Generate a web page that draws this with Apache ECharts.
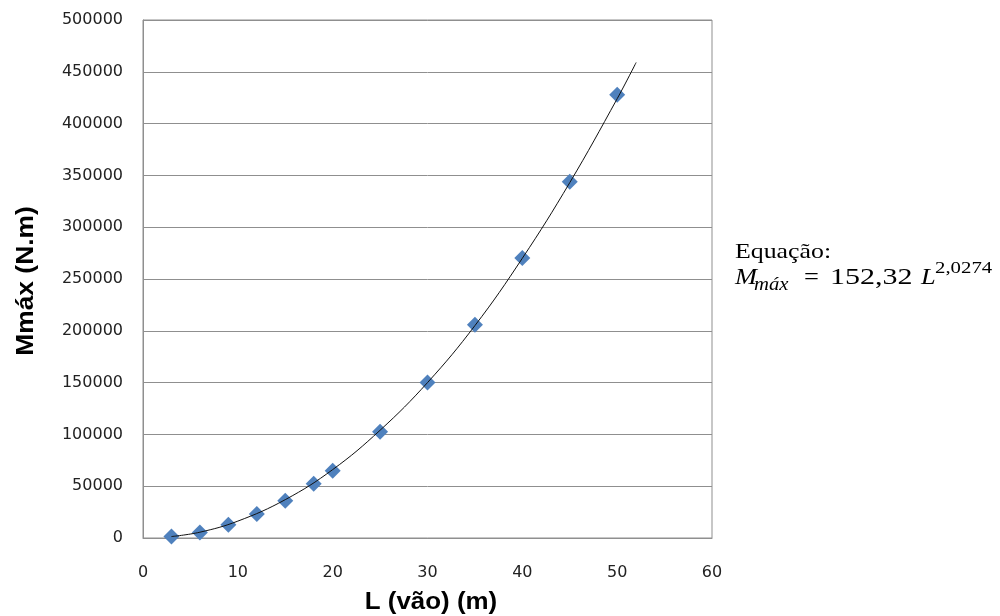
<!DOCTYPE html>
<html>
<head>
<meta charset="utf-8">
<script src="https://cdn.jsdelivr.net/npm/echarts@6/dist/echarts.min.js"></script>
<style>
html,body{margin:0;padding:0;background:#fff;}
#chart{width:1000px;height:616px;}
</style>
</head>
<body>
<div id="chart"></div>
<script>
// Measured data points: span L (m) and maximum moment (N.m)
var spanL = [3, 6, 9, 12, 15, 18, 20, 25, 30, 35, 40, 45, 50];
var momentMax = [1500, 5400, 12800, 23200, 36000, 52400, 65000, 102600, 150000, 205800, 270300, 343900, 427800];

// Trend line
var trendL = [3, 6, 10, 15, 20, 25, 30, 35, 40, 45, 50, 52];
var trendM = [1400, 5600, 16300, 37000, 66000, 104000, 150000, 205000, 270000, 343000, 424000, 459000];

// Axis ticks
var xTicks = [0, 10, 20, 30, 40, 50, 60];
var yTicks = [0, 50000, 100000, 150000, 200000, 250000, 300000, 350000, 400000, 450000, 500000];

var xTitle = 'L (vão) (m)';
var yTitle = 'Mmáx (N.m)';

var chart = echarts.init(document.getElementById('chart'), null, {renderer: 'canvas'});

var ptData = spanL.map(function (x, i) { return [x, momentMax[i]]; });
var trData = trendL.map(function (x, i) { return [x, trendM[i]]; });

var gridGray = '#8f8f8f';
var labelFont = {color: '#222', fontFamily: 'DejaVu Sans', fontSize: 16, formatter: function (v) { return String(v); }};

function txt(x, y, text, font, opts) {
  opts = opts || {};
  return {
    type: 'text', x: x, y: y,
    rotation: opts.rotation || 0,
    scaleX: opts.scaleX || 1,
    silent: true,
    style: {
      text: text, font: font, fill: '#000',
      align: opts.align || 'left', verticalAlign: 'middle',
      textAlign: opts.align || 'left', textVerticalAlign: 'middle'
    }
  };
}

var option = {
  backgroundColor: '#ffffff',
  animation: false,
  grid: {left: 143, right: 288, top: 20, bottom: 78, show: true, borderColor: gridGray, borderWidth: 1, containLabel: false},
  xAxis: {
    type: 'value', min: xTicks[0], max: xTicks[xTicks.length - 1], interval: 10,
    axisLine: {show: true, lineStyle: {color: gridGray, width: 1}},
    axisTick: {show: false},
    splitLine: {show: false},
    axisLabel: Object.assign({margin: 27}, labelFont)
  },
  yAxis: {
    type: 'value', min: yTicks[0], max: yTicks[yTicks.length - 1], interval: 50000,
    axisLine: {show: true, lineStyle: {color: gridGray, width: 1}},
    axisTick: {show: false},
    splitLine: {show: true, lineStyle: {color: gridGray, width: 1}},
    axisLabel: Object.assign({margin: 20}, labelFont)
  },
  series: [
    {
      type: 'line', data: trData, smooth: 0.4, showSymbol: false, symbol: 'none',
      lineStyle: {color: '#111', width: 1}, z: 3, silent: true
    },
    {
      type: 'scatter', data: ptData, symbol: 'diamond', symbolSize: [16, 16],
      itemStyle: {color: '#4F81BD', opacity: 1}, z: 2
    }
  ],
  graphic: [
    txt(431, 602, xTitle, 'bold 24px "Liberation Sans"', {align: 'center', scaleX: 1.08}),
    txt(26, 281, yTitle, 'bold 24px "Liberation Sans"', {align: 'center', rotation: Math.PI / 2, scaleX: 1.1}),
    txt(735, 252, 'Equação:', '21px "Liberation Serif"', {scaleX: 1.23}),
    txt(735, 278, 'M', 'italic 24px "Liberation Serif"', {scaleX: 1.1}),
    txt(754, 285, 'máx', 'italic 18px "Liberation Serif"', {scaleX: 1.15}),
    txt(804, 278, '=', '24px "Liberation Serif"', {scaleX: 1.1}),
    txt(830, 278, '152,32', '24px "Liberation Serif"', {scaleX: 1.25}),
    txt(921, 278, 'L', 'italic 24px "Liberation Serif"', {scaleX: 1.1}),
    txt(935, 269, '2,0274', '16px "Liberation Serif"', {scaleX: 1.3})
  ]
};
chart.setOption(option);
</script>
</body>
</html>
